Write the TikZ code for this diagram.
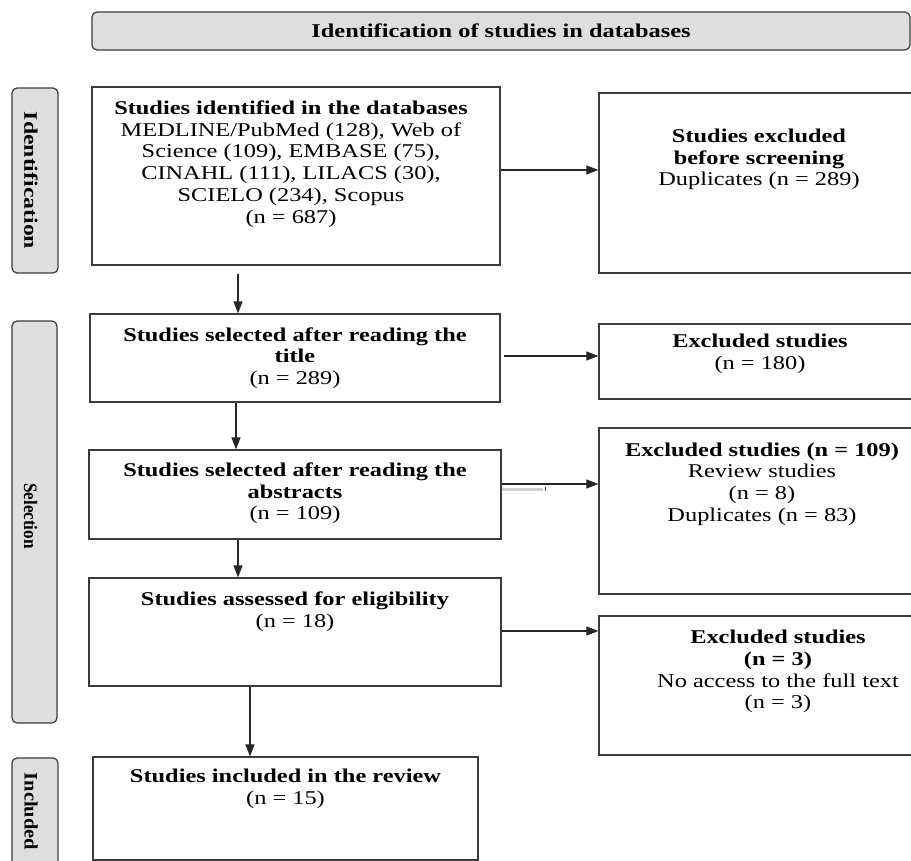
\documentclass[tikz,border=0pt]{standalone}
\usepackage{fontspec}
\setmainfont{Liberation Serif}[FakeStretch=1.25]
\usetikzlibrary{arrows.meta}
\definecolor{edge}{HTML}{3C3C3C}
\definecolor{sidefill}{HTML}{DEDEDE}
\begin{document}
\begin{tikzpicture}[x=1pt,y=-1pt,
  box/.style={draw=edge, line width=1.2pt, rectangle, inner sep=0pt},
  side/.style={draw=edge, fill=sidefill, line width=1.2pt, rounded corners=5pt, inner sep=0pt},
  txt/.style={align=center, inner sep=0pt, font=\fontsize{19.5}{21.7}\selectfont, text=black},
  sidetxt/.style={inner sep=0pt, rotate=-90, font=\fontsize{19}{21}\selectfont\bfseries},
  arr/.style={draw=black!85, line width=1.1pt, -{Triangle[length=12pt,width=9pt]}}]
\useasboundingbox (0,0) rectangle (911,861);
% header
\node[side, minimum width=818pt, minimum height=38pt] (hdr) at (501,31) {};
\node[txt] (hdrt) at (501,31) {\textbf{Identification of studies in databases}};
% side labels
\node[side, minimum width=46pt, minimum height=185pt] (sid) at (35,180.5) {};
\node[sidetxt] (sidt) at (31,180.5) {Identification};
\node[side, minimum width=45pt, minimum height=402pt] (ssel) at (34.5,522) {};
\node[sidetxt] (sselt) at (30.5,516) {\scalebox{0.72}[1]{Selection}};
\node[side, minimum width=46pt, minimum height=124pt] (sinc) at (35,820) {};
\node[sidetxt] (sinct) at (31,811.5) {\scalebox{0.86}[1]{Included}};
% left boxes
\node[box, minimum width=408pt, minimum height=178pt] (b1) at (296,176) {};
\node[txt] (t1) at (291,164) {\textbf{Studies identified in the databases}\\MEDLINE/PubMed (128), Web of\\Science (109), EMBASE (75),\\CINAHL (111), LILACS (30),\\SCIELO (234), Scopus\\(n = 687)};
\node[box, minimum width=410pt, minimum height=88pt] (b2) at (295,358) {};
\node[txt] (t2) at (295,358) {\textbf{Studies selected after reading the}\\\textbf{title}\\(n = 289)};
\node[box, minimum width=412pt, minimum height=89pt] (b3) at (295,494.5) {};
\node[txt] (t3) at (295,493.5) {\textbf{Studies selected after reading the}\\\textbf{abstracts}\\(n = 109)};
\node[box, minimum width=412pt, minimum height=108pt] (b4) at (295,632) {};
\node[txt] (t4) at (295,611.5) {\textbf{Studies assessed for eligibility}\\(n = 18)};
\node[box, minimum width=385pt, minimum height=103pt] (b5) at (285.5,808.5) {};
\node[txt] (t5) at (285.5,788.5) {\textbf{Studies included in the review}\\(n = 15)};
% right boxes
\node[box, minimum width=321pt, minimum height=180pt] (r1) at (759.5,183) {};
\node[txt] (u1) at (759,159.5) {\textbf{Studies excluded}\\\textbf{before screening}\\Duplicates (n = 289)};
\node[box, minimum width=321pt, minimum height=75pt] (r2) at (759.5,361.5) {};
\node[txt] (u2) at (760,354) {\textbf{Excluded studies}\\(n = 180)};
\node[box, minimum width=321pt, minimum height=166pt] (r3) at (759.5,511) {};
\node[txt] (u3) at (762,484) {\textbf{Excluded studies (n = 109)}\\Review studies\\(n = 8)\\Duplicates (n = 83)};
\node[box, minimum width=321pt, minimum height=139pt] (r4) at (759.5,685.5) {};
\node[txt] (u4) at (778,671.5) {\textbf{Excluded studies}\\\textbf{(n = 3)}\\No access to the full text\\(n = 3)};
% guide coordinates
\coordinate (v1) at (238,0);
\coordinate (v2) at (236,0);
\coordinate (v3) at (238,0);
\coordinate (v4) at (250,0);
\coordinate (h1) at (0,170);
\coordinate (h2) at (0,356);
\coordinate (h3) at (0,484);
\coordinate (h4) at (0,631);
% connectors
\draw[arr] (b1.east |- h1) -- (r1.west |- h1);
\draw[arr, shorten <=8pt] (b1.south -| v1) -- (b2.north -| v1);
\draw[arr, shorten <=3pt] (b2.east |- h2) -- (r2.west |- h2);
\draw[arr] (b2.south -| v2) -- (b3.north -| v2);
\draw[arr] (b3.east |- h3) -- (r3.west |- h3);
\draw[arr] (b3.south -| v3) -- (b4.north -| v3);
\draw[arr] (b4.east |- h4) -- (r4.west |- h4);
\draw[arr] (b4.south -| v4) -- (b5.north -| v4);
% small grey mark beside the third connector
\coordinate (g1) at (502,489);
\coordinate (g2) at (543,489);
\coordinate (g3) at (545,487);
\coordinate (g4) at (545,491);
\draw[black!18, line width=3pt] (g1) -- (g2);
\draw[black!70, line width=1pt] (g3) -- (g4);
\end{tikzpicture}
\end{document}
